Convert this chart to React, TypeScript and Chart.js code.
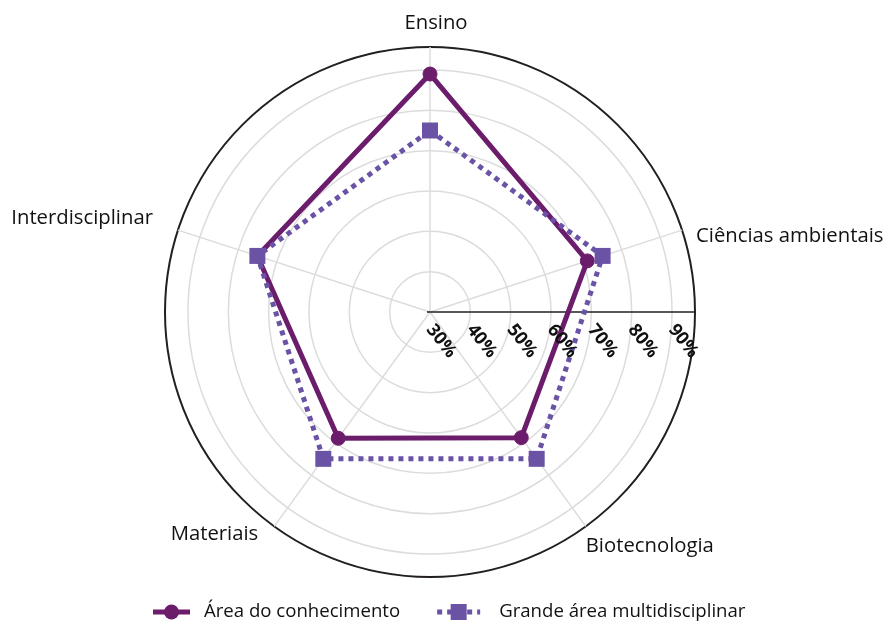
import React, { useEffect, useRef } from "react";
import { Chart, registerables } from "chart.js";

Chart.register(...registerables);

// ---- data ----
const categories = ["Ensino", "Ciências ambientais", "Biotecnologia", "Materiais", "Interdisciplinar"];
const areaConhecimento = [89, 71, 68.5, 68.7, 75];
const grandeArea = [75, 75, 75, 75, 75];
const seriesNames = ["Área do conhecimento", "Grande área multidisciplinar"];
const tickValues = [30, 40, 50, 60, 70, 80, 90];
const tickLabels = ["30%", "40%", "50%", "60%", "70%", "80%", "90%"];
const scaleMin = 30;
const scaleMax = 95.7;

// ---- styles ----
const FONT = '"Open Sans", "Noto Sans", sans-serif';
const COLOR_AREA = "#6b1c6b";
const COLOR_GRANDE = "#6a52a5";
const GRID = "#dcdcdc";
const DARK = "#231f20";
const TEXT = "#111111";

// label anchor tweaks (dx, dy, align, baseline) relative to the outer-ring point
const labelPlacement: [number, number, CanvasTextAlign, CanvasTextBaseline][] = [
  [6, -18, "center", "alphabetic"],
  [14, 6, "left", "middle"],
  [0, 20, "left", "middle"],
  [-16, 8, "right", "middle"],
  [-25, -12, "right", "middle"],
];

const decor = {
  id: "decor",
  beforeDatasetsDraw(chart: any) {
    const s = chart.scales.r;
    const ctx = chart.ctx as CanvasRenderingContext2D;
    ctx.save();
    ctx.strokeStyle = DARK;
    ctx.lineWidth = 1.5;
    ctx.beginPath();
    ctx.moveTo(s.xCenter - 3, s.yCenter);
    ctx.lineTo(s.xCenter + s.drawingArea, s.yCenter);
    ctx.stroke();
    ctx.restore();
  },
  afterDatasetsDraw(chart: any) {
    const s = chart.scales.r;
    const ctx = chart.ctx as CanvasRenderingContext2D;
    ctx.save();
    // tick labels, rotated
    ctx.fillStyle = TEXT;
    ctx.font = `bold 18px ${FONT}`;
    tickValues.forEach((v, i) => {
      const x = s.xCenter + s.getDistanceFromCenterForValue(v);
      ctx.save();
      ctx.translate(x + 7, s.yCenter + 9);
      ctx.rotate((52 * Math.PI) / 180);
      ctx.textAlign = "left";
      ctx.textBaseline = "top";
      ctx.fillText(tickLabels[i], 0, 0);
      ctx.restore();
    });
    // category labels
    ctx.font = `20.3px ${FONT}`;
    categories.forEach((c, i) => {
      const p = s.getPointPosition(i, s.drawingArea);
      const [dx, dy, al, bl] = labelPlacement[i];
      ctx.textAlign = al;
      ctx.textBaseline = bl;
      ctx.fillText(c, p.x + dx, p.y + dy);
    });
    // legend
    const y = 612;
    ctx.font = `18.6px ${FONT}`;
    ctx.textAlign = "left";
    ctx.textBaseline = "middle";
    const lineLen = 37;
    const gapText = 14;
    const w0 = ctx.measureText(seriesNames[0]).width;
    let x = 153;
    // item 1
    ctx.strokeStyle = COLOR_AREA;
    ctx.lineWidth = 5;
    ctx.setLineDash([]);
    ctx.beginPath();
    ctx.moveTo(x, y);
    ctx.lineTo(x + lineLen, y);
    ctx.stroke();
    ctx.fillStyle = COLOR_AREA;
    ctx.beginPath();
    ctx.arc(x + lineLen / 2, y, 7.5, 0, Math.PI * 2);
    ctx.fill();
    ctx.fillStyle = TEXT;
    ctx.fillText(seriesNames[0], x + lineLen + gapText, y);
    x += lineLen + gapText + w0 + 37;
    // item 2
    const l2 = 43;
    ctx.strokeStyle = COLOR_GRANDE;
    ctx.setLineDash([5, 5]);
    ctx.beginPath();
    ctx.moveTo(x, y);
    ctx.lineTo(x + l2, y);
    ctx.stroke();
    ctx.setLineDash([]);
    ctx.fillStyle = COLOR_GRANDE;
    ctx.fillRect(x + l2 / 2 - 8, y - 8, 16, 16);
    ctx.fillStyle = TEXT;
    ctx.fillText(seriesNames[1], x + l2 + 19, y);
    ctx.restore();
  },
};

export default function App() {
  const ref = useRef<HTMLCanvasElement | null>(null);
  useEffect(() => {
    if (!ref.current) return;
    const chart = new Chart(ref.current, {
      type: "radar",
      data: {
        labels: categories,
        datasets: [
          {
            label: seriesNames[0],
            data: areaConhecimento,
            borderColor: COLOR_AREA,
            backgroundColor: COLOR_AREA,
            borderWidth: 5,
            fill: false,
            pointStyle: "circle",
            pointRadius: 7,
            pointBorderWidth: 1,
            pointBackgroundColor: COLOR_AREA,
            pointBorderColor: COLOR_AREA,
            order: 1,
          },
          {
            label: seriesNames[1],
            data: grandeArea,
            borderColor: COLOR_GRANDE,
            backgroundColor: COLOR_GRANDE,
            borderWidth: 5,
            borderDash: [5, 5],
            fill: false,
            pointStyle: "rect",
            pointRadius: 11.3,
            pointBorderWidth: 0,
            pointBackgroundColor: COLOR_GRANDE,
            pointBorderColor: COLOR_GRANDE,
            order: 0,
          },
        ],
      },
      options: {
        responsive: false,
        animation: false,
        layout: { padding: { left: 165, right: 192, top: 47, bottom: 46 } },
        plugins: { legend: { display: false }, tooltip: { enabled: false } },
        elements: { line: { tension: 0 } },
        scales: {
          r: {
            min: scaleMin,
            max: scaleMax,
            afterBuildTicks: (scale: any) => {
              scale.ticks = tickValues.map((v) => ({ value: v })).concat([{ value: scaleMax }]);
            },
            ticks: { display: false, stepSize: 10 },
            pointLabels: { display: false },
            angleLines: { display: true, color: GRID, lineWidth: 1.5 },
            grid: {
              circular: true,
              color: (c: any) => (c.tick && c.tick.value >= scaleMax - 0.01 ? DARK : GRID),
              lineWidth: (c: any) => (c.tick && c.tick.value >= scaleMax - 0.01 ? 2 : 1.5),
            },
          },
        },
      },
      plugins: [decor],
    });
    return () => chart.destroy();
  }, []);
  return (
    <div style={{ position: "absolute", left: 0, top: 0, width: 887, height: 623 }}>
      <canvas ref={ref} width={887} height={623} style={{ display: "block" }} />
    </div>
  );
}
